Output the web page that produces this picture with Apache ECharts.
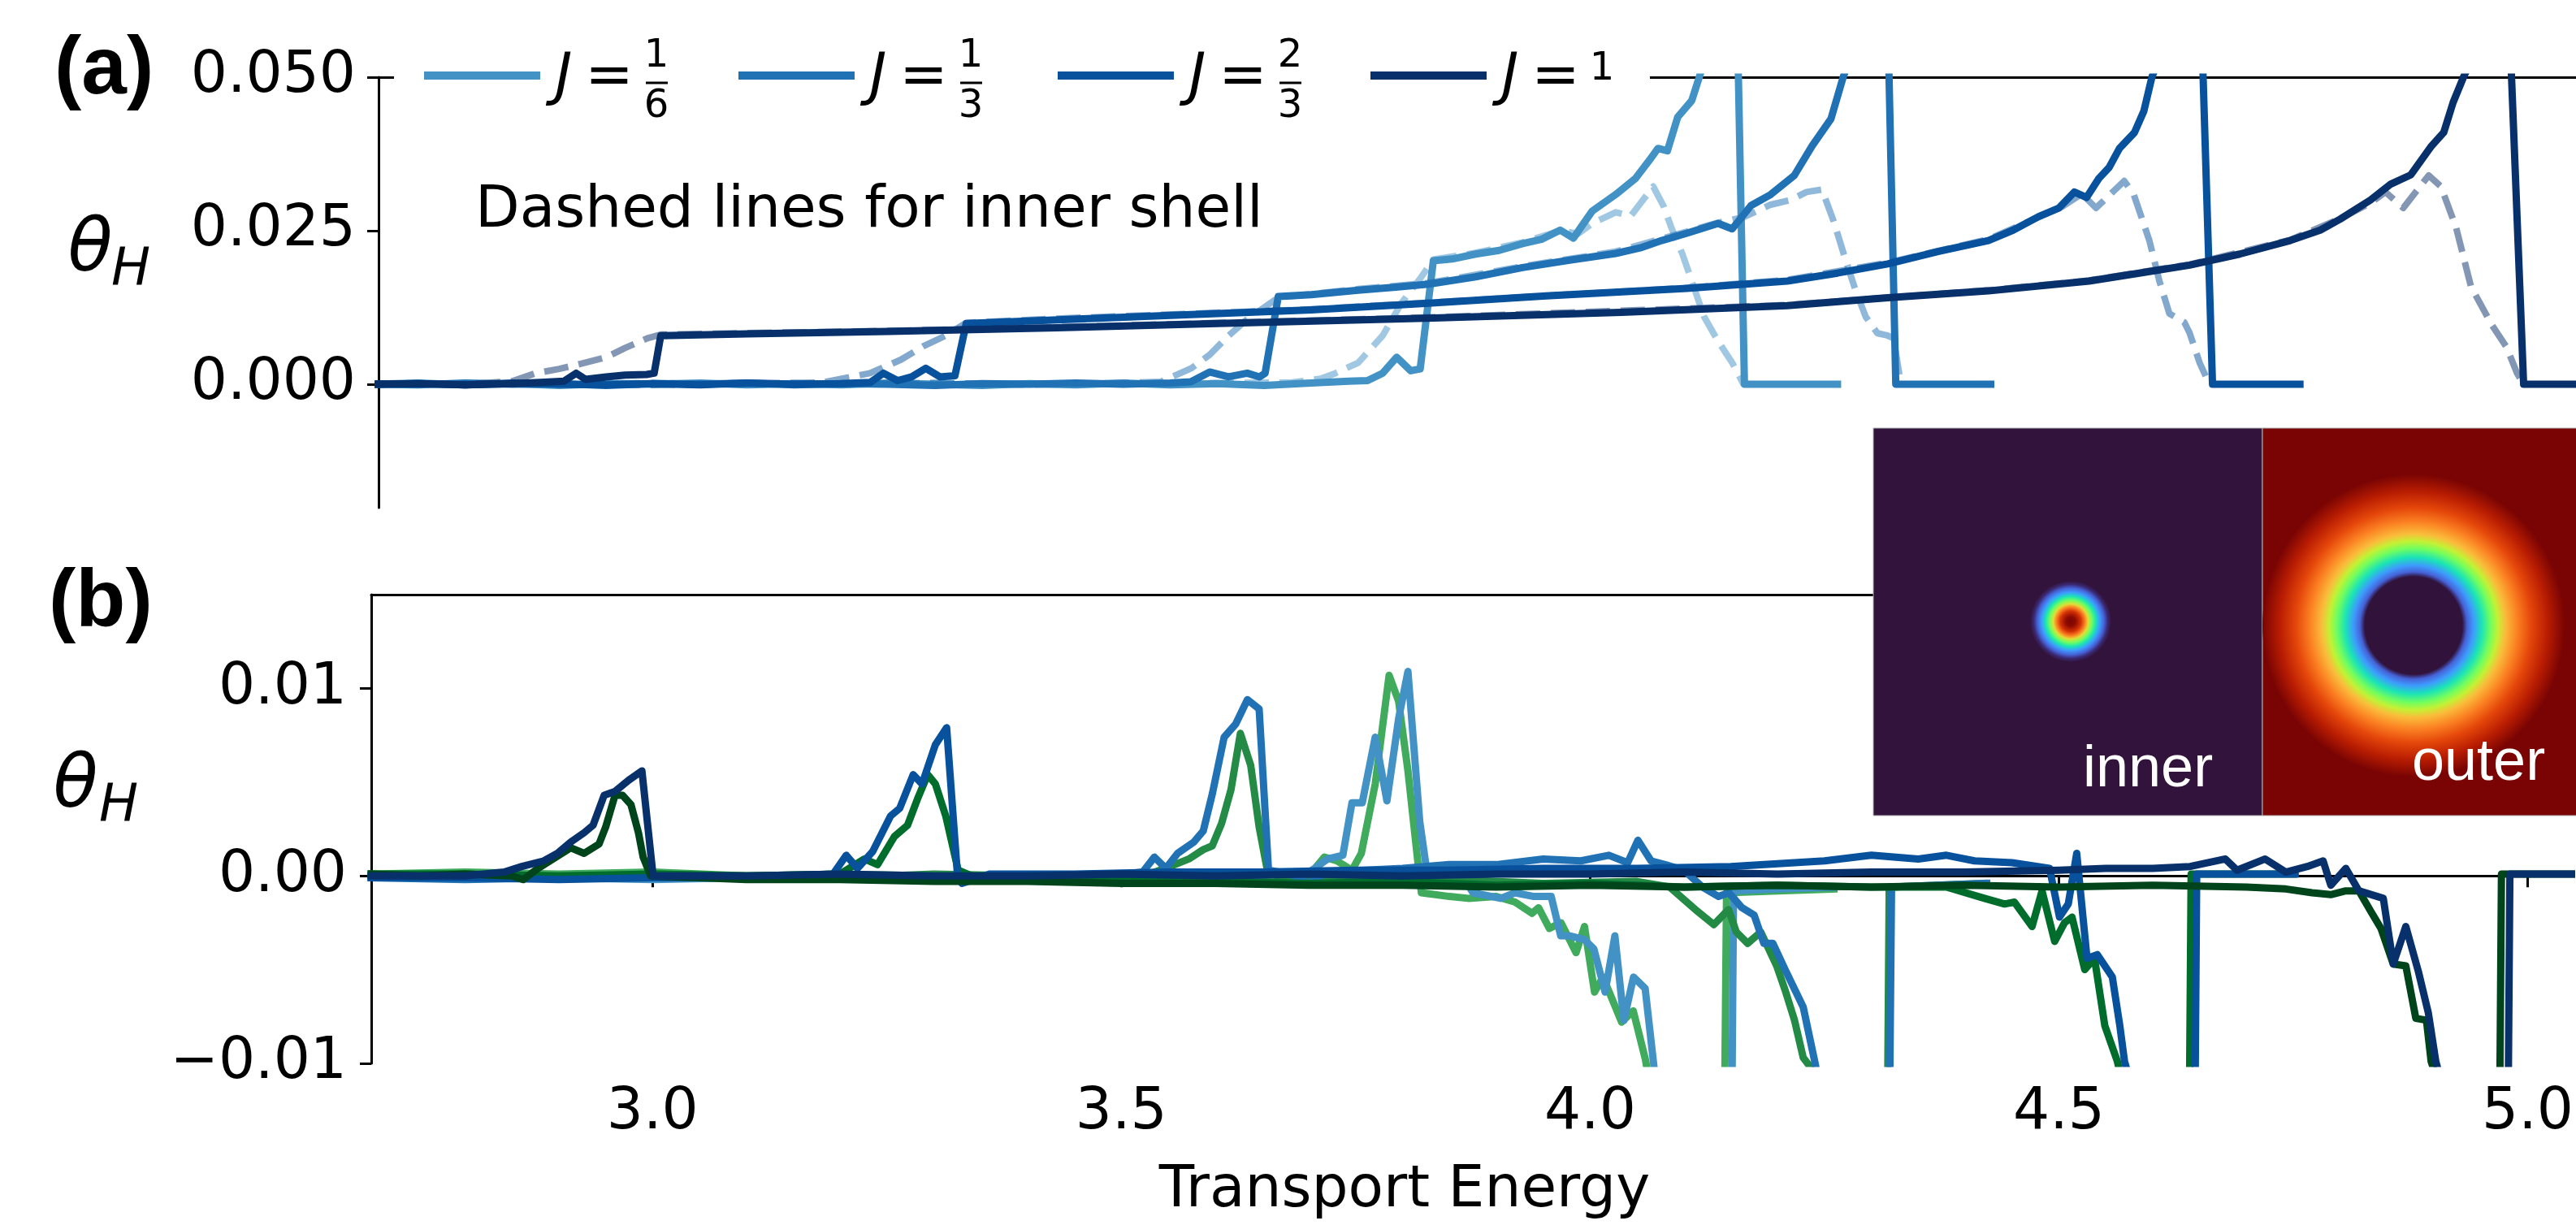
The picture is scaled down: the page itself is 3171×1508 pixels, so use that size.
<!DOCTYPE html>
<html>
<head>
<meta charset="UTF-8">
<title>theta_H vs transport energy</title>
<script src="https://cdn.jsdelivr.net/npm/echarts@6/dist/echarts.min.js"></script>
<style>
html, body { margin: 0; padding: 0; background: #fff; }
#main { width: 3171px; height: 1508px; }
</style>
</head>
<body>
<div id="main"></div>
<script type="text/javascript">
// tick values
var xTicks = [3.0, 3.5, 4.0, 4.5, 5.0];
var aTicks = [0, 0.025, 0.05];
var bTicks = [-0.01, 0, 0.01];

// legend labels J = num/den
var legendNum = ['1', '1', '2', '1'];
var legendDen = ['6', '3', '3', ''];
var blues = ['#4292c6', '#2171b5', '#08519c', '#08306b'];
var greens = ['#41ab5d', '#238b45', '#006d2c', '#00441b'];

// ---- panel (a): solid = outer shell, "in" = inner shell (dashed) ----
var a16 = [[2.70,0.0000],[2.75,0.0002],[2.80,-0.0001],[2.85,0.0001],[2.90,-0.0002],[2.95,0.0001],[3.00,0.0000],[3.05,0.0002],[3.10,-0.0001],[3.15,0.0001],[3.20,-0.0001],[3.25,0.0002],[3.30,0.0000],[3.35,-0.0002],[3.40,0.0001],[3.45,-0.0001],[3.50,0.0002],[3.55,-0.0001],[3.60,0.0001],[3.65,-0.0002],[3.70,0.0002],[3.74,0.0005],[3.76,0.0006],[3.776,0.0018],[3.791,0.0044],[3.806,0.0022],[3.816,0.0025],[3.830,0.0201],[3.850,0.0204],[3.875,0.0212],[3.900,0.0218],[3.925,0.0229],[3.945,0.0236],[3.965,0.0251],[3.979,0.0238],[3.999,0.0282],[4.024,0.0309],[4.045,0.0335],[4.060,0.0365],[4.069,0.0384],[4.079,0.0380],[4.090,0.0435],[4.105,0.0462],[4.115,0.0510],[4.135,0.0600],[4.152,0.0700],[4.161,0.0000],[4.200,0.0000],[4.260,0.0000]];
var a16in = [[2.70,0.0001],[2.80,0.0000],[2.90,0.0002],[3.00,-0.0001],[3.10,0.0001],[3.20,0.0000],[3.30,0.0002],[3.40,-0.0001],[3.50,0.0001],[3.60,0.0002],[3.68,0.0003],[3.71,0.0009],[3.726,0.0018],[3.750,0.0035],[3.776,0.0079],[3.796,0.0132],[3.816,0.0172],[3.830,0.0203],[3.875,0.0214],[3.925,0.0231],[3.965,0.0250],[3.984,0.0245],[3.999,0.0262],[4.024,0.0280],[4.040,0.0274],[4.064,0.0322],[4.075,0.0290],[4.083,0.0256],[4.095,0.0212],[4.105,0.0168],[4.118,0.0110],[4.133,0.0070],[4.148,0.0035],[4.160,0.0000],[4.260,0.0000]];
var a13 = [[2.70,0.0000],[2.75,-0.0001],[2.80,0.0002],[2.85,0.0000],[2.90,0.0001],[2.95,-0.0002],[3.00,0.0001],[3.05,0.0000],[3.10,0.0002],[3.15,-0.0001],[3.20,0.0001],[3.25,0.0000],[3.30,-0.0002],[3.35,0.0001],[3.40,0.0000],[3.45,0.0002],[3.50,0.0000],[3.55,0.0002],[3.572,0.0004],[3.592,0.0020],[3.612,0.0012],[3.632,0.0018],[3.645,0.0012],[3.651,0.0018],[3.665,0.0143],[3.700,0.0146],[3.750,0.0153],[3.790,0.0158],[3.825,0.0163],[3.875,0.0175],[3.925,0.0190],[3.975,0.0202],[4.024,0.0213],[4.050,0.0222],[4.073,0.0234],[4.100,0.0246],[4.133,0.0262],[4.148,0.0253],[4.168,0.0291],[4.188,0.0308],[4.214,0.0340],[4.233,0.0388],[4.253,0.0432],[4.266,0.0500],[4.290,0.0600],[4.312,0.0700],[4.322,0.0000],[4.380,0.0000],[4.423,0.0000]];
var a13in = [[2.70,0.0001],[2.80,-0.0001],[2.90,0.0001],[3.00,0.0002],[3.10,0.0000],[3.20,0.0001],[3.30,0.0002],[3.40,0.0000],[3.50,0.0002],[3.54,0.0004],[3.5725,0.0026],[3.592,0.0048],[3.612,0.0079],[3.632,0.0106],[3.650,0.0125],[3.665,0.0141],[3.750,0.0155],[3.825,0.0165],[3.925,0.0192],[4.024,0.0216],[4.073,0.0237],[4.133,0.0263],[4.160,0.0272],[4.188,0.0292],[4.210,0.0300],[4.227,0.0313],[4.2435,0.0317],[4.256,0.0265],[4.2667,0.0212],[4.279,0.0154],[4.290,0.0110],[4.3025,0.0083],[4.312,0.0080],[4.3197,0.0075],[4.3265,0.0009],[4.330,0.0000],[4.423,0.0000]];
var a23 = [[2.70,0.0000],[2.75,0.0001],[2.80,-0.0001],[2.85,0.0002],[2.90,0.0000],[2.95,-0.0001],[3.00,0.0001],[3.05,-0.0001],[3.10,0.0002],[3.15,0.0000],[3.20,0.0001],[3.231,0.0003],[3.245,0.0018],[3.260,0.0006],[3.275,0.0012],[3.290,0.0026],[3.305,0.0012],[3.321,0.0014],[3.333,0.0099],[3.430,0.0105],[3.550,0.0112],[3.700,0.0121],[3.825,0.0132],[3.950,0.0144],[4.100,0.0156],[4.2065,0.0168],[4.260,0.0181],[4.3135,0.0196],[4.367,0.0216],[4.4206,0.0234],[4.447,0.0251],[4.474,0.0273],[4.4955,0.0287],[4.512,0.0313],[4.525,0.0304],[4.538,0.0335],[4.549,0.0353],[4.560,0.0384],[4.576,0.0410],[4.586,0.0445],[4.5945,0.0500],[4.620,0.0600],[4.645,0.0700],[4.659,0.0000],[4.700,0.0000],[4.752,0.0000]];
var a23in = [[2.70,0.0001],[2.80,0.0000],[2.90,0.0001],[3.00,-0.0001],[3.10,0.0001],[3.18,0.0003],[3.2307,0.0018],[3.2636,0.0040],[3.2875,0.0062],[3.311,0.0079],[3.333,0.0100],[3.430,0.0107],[3.700,0.0122],[3.825,0.0133],[4.100,0.0157],[4.2065,0.0170],[4.3135,0.0198],[4.4206,0.0236],[4.474,0.0272],[4.500,0.0290],[4.520,0.0310],[4.535,0.0287],[4.565,0.0331],[4.575,0.0310],[4.5918,0.0234],[4.6025,0.0168],[4.6131,0.0115],[4.629,0.0101],[4.6345,0.0084],[4.6453,0.0035],[4.653,0.0009],[4.657,0.0000],[4.752,0.0000]];
var a1 = [[2.70,0.0000],[2.75,0.0001],[2.80,-0.0001],[2.85,0.0001],[2.88,0.0003],[2.905,0.0005],[2.918,0.0018],[2.928,0.0008],[2.950,0.0012],[2.970,0.0015],[2.993,0.0016],[3.001,0.0018],[3.008,0.0079],[3.100,0.0082],[3.250,0.0086],[3.430,0.0092],[3.600,0.0099],[3.830,0.0108],[4.030,0.0117],[4.2065,0.0128],[4.3135,0.0141],[4.4206,0.0152],[4.5276,0.0168],[4.581,0.0181],[4.6347,0.0194],[4.688,0.0212],[4.7417,0.0234],[4.7737,0.0251],[4.795,0.0269],[4.827,0.0300],[4.8487,0.0326],[4.870,0.0341],[4.892,0.0388],[4.905,0.0410],[4.915,0.0459],[4.926,0.0500],[4.950,0.0580],[4.972,0.0700],[4.990,0.0000],[5.050,0.0000]];
var a1in = [[2.70,0.0001],[2.80,0.0000],[2.85,0.0005],[2.875,0.0018],[2.900,0.0025],[2.922,0.0033],[2.950,0.0044],[2.970,0.0059],[2.994,0.0075],[3.008,0.0081],[3.250,0.0087],[3.430,0.0093],[3.830,0.0109],[4.2065,0.0129],[4.4206,0.0153],[4.5276,0.0169],[4.6347,0.0195],[4.7417,0.0235],[4.795,0.0270],[4.827,0.0295],[4.843,0.0313],[4.862,0.0287],[4.889,0.0340],[4.902,0.0322],[4.918,0.0256],[4.934,0.0159],[4.956,0.0097],[4.972,0.0060],[4.983,0.0018],[4.990,0.0000],[5.050,0.0000]];

// ---- panel (b): blue and green pairs for each J ----
var b16g = [[2.70,0.0001],[2.80,0.0002],[2.90,0.0001],[3.00,0.0002],[3.10,0.0000],[3.20,0.0001],[3.30,0.0000],[3.40,-0.0001],[3.50,0.0001],[3.55,-0.0002],[3.60,0.0000],[3.65,-0.0001],[3.70,0.0000],[3.7165,0.0010],[3.730,0.0008],[3.746,0.0003],[3.756,0.0012],[3.7708,0.0049],[3.7856,0.0107],[3.7958,0.0093],[3.8057,0.0056],[3.8157,0.0010],[3.820,-0.0009],[3.850,-0.0011],[3.870,-0.0012],[3.900,-0.0011],[3.920,-0.0014],[3.938,-0.0020],[3.945,-0.0017],[3.9565,-0.0028],[3.969,-0.0025],[3.985,-0.0041],[3.994,-0.0027],[4.0047,-0.0062],[4.0137,-0.0054],[4.0237,-0.0066],[4.0336,-0.0078],[4.046,-0.0072],[4.059,-0.0098],[4.070,-0.0130],[4.142,-0.0200],[4.1455,-0.0009],[4.200,-0.0008],[4.260,-0.0007]];
var b16b = [[2.70,-0.0001],[2.80,0.0000],[2.90,-0.0001],[3.00,-0.0002],[3.10,-0.0001],[3.20,-0.0001],[3.30,-0.0002],[3.40,-0.0001],[3.50,-0.0002],[3.60,-0.0001],[3.70,0.0002],[3.7064,0.0004],[3.720,0.0009],[3.7363,0.0011],[3.746,0.0039],[3.757,0.0039],[3.7708,0.0074],[3.7833,0.0040],[3.7958,0.0084],[3.8057,0.0109],[3.8183,0.0029],[3.8254,0.0004],[3.840,0.0002],[3.860,0.0003],[3.875,-0.0009],[3.9047,-0.0012],[3.920,-0.0009],[3.940,-0.0011],[3.9585,-0.0011],[3.9686,-0.0032],[3.9785,-0.0032],[3.994,-0.0034],[4.004,-0.0039],[4.016,-0.0062],[4.0264,-0.0032],[4.036,-0.0077],[4.0463,-0.0054],[4.0587,-0.0060],[4.0686,-0.0104],[4.090,-0.0160],[4.150,-0.0200],[4.153,-0.0008],[4.200,-0.0007],[4.260,-0.0006]];
var b13g = [[2.70,0.0000],[2.80,0.0001],[2.90,-0.0001],[3.00,0.0001],[3.10,0.0000],[3.20,-0.0001],[3.30,0.0001],[3.40,0.0000],[3.50,-0.0001],[3.53,0.0001],[3.557,0.0006],[3.572,0.0009],[3.5874,0.0014],[3.597,0.0016],[3.607,0.0028],[3.617,0.0046],[3.627,0.0076],[3.638,0.0059],[3.647,0.0026],[3.6557,0.0003],[3.670,-0.0001],[3.750,-0.0003],[3.850,-0.0002],[3.950,-0.0004],[4.050,-0.0003],[4.085,-0.0006],[4.1147,-0.0019],[4.132,-0.0026],[4.1476,-0.0018],[4.156,-0.0030],[4.168,-0.0036],[4.182,-0.0030],[4.199,-0.0048],[4.208,-0.0061],[4.218,-0.0077],[4.2273,-0.0097],[4.235,-0.0102],[4.260,-0.0160],[4.316,-0.0200],[4.319,-0.0006],[4.420,-0.0004]];
var b13b = [[2.70,-0.0001],[2.80,-0.0002],[2.90,-0.0001],[3.00,0.0000],[3.10,-0.0001],[3.20,-0.0001],[3.30,-0.0002],[3.40,-0.0001],[3.503,0.0001],[3.5228,0.0002],[3.5353,0.0010],[3.5475,0.0004],[3.560,0.0012],[3.5773,0.0018],[3.5874,0.0024],[3.5972,0.0044],[3.6097,0.0074],[3.622,0.0081],[3.6345,0.0094],[3.647,0.0089],[3.657,0.0003],[3.680,0.0001],[3.700,-0.0004],[3.720,0.0002],[3.760,0.0003],[3.800,0.0004],[3.850,0.0006],[3.900,0.0006],[3.950,0.0009],[3.990,0.0008],[4.020,0.0011],[4.040,0.0007],[4.051,0.0019],[4.065,0.0008],[4.080,0.0006],[4.100,0.0003],[4.120,-0.0006],[4.137,-0.0011],[4.148,-0.0009],[4.162,-0.0017],[4.175,-0.0021],[4.1853,-0.0036],[4.195,-0.0036],[4.208,-0.0050],[4.2273,-0.0070],[4.240,-0.0100],[4.260,-0.0150],[4.318,-0.0200],[4.3215,-0.0006],[4.423,-0.0004]];
var b23g = [[2.70,0.0001],[2.80,0.0001],[2.90,0.0000],[3.00,0.0001],[3.10,0.0000],[3.20,0.0001],[3.226,0.0009],[3.240,0.0006],[3.258,0.0021],[3.272,0.0027],[3.2826,0.0041],[3.2935,0.0054],[3.3017,0.0049],[3.3127,0.0032],[3.326,0.0003],[3.350,-0.0002],[3.400,-0.0001],[3.500,-0.0002],[3.600,-0.0003],[3.700,-0.0004],[3.800,-0.0003],[3.900,-0.0005],[4.000,-0.0004],[4.100,-0.0006],[4.200,-0.0005],[4.300,-0.0006],[4.380,-0.0006],[4.4206,-0.0012],[4.442,-0.0015],[4.4526,-0.0014],[4.4714,-0.0027],[4.482,-0.0008],[4.4955,-0.0035],[4.506,-0.0025],[4.514,-0.0022],[4.5276,-0.0050],[4.538,-0.0044],[4.549,-0.0080],[4.5624,-0.0099],[4.580,-0.0140],[4.638,-0.0200],[4.641,0.0001],[4.750,0.0001]];
var b23b = [[2.70,-0.0001],[2.80,-0.0001],[2.90,-0.0002],[3.00,-0.0001],[3.10,-0.0001],[3.1927,0.0001],[3.2066,0.0011],[3.2186,0.0004],[3.2348,0.0013],[3.254,0.0032],[3.2636,0.0036],[3.278,0.0054],[3.2875,0.0049],[3.3017,0.0070],[3.3137,0.0079],[3.3253,0.0000],[3.330,-0.0004],[3.360,0.0001],[3.450,0.0001],[3.550,0.0002],[3.650,0.0002],[3.750,0.0003],[3.850,0.0003],[3.950,0.0004],[4.050,0.0004],[4.150,0.0005],[4.250,0.0008],[4.300,0.0011],[4.350,0.0009],[4.380,0.0011],[4.410,0.0008],[4.450,0.0007],[4.490,0.0004],[4.5006,-0.0022],[4.510,-0.0015],[4.519,0.0012],[4.530,-0.0044],[4.541,-0.0042],[4.557,-0.0054],[4.565,-0.0080],[4.570,-0.0099],[4.600,-0.0150],[4.644,-0.0200],[4.647,0.0001],[4.752,0.0001]];
var b1g = [[2.70,0.0001],[2.75,0.0000],[2.80,0.0001],[2.85,0.0000],[2.862,-0.0002],[2.878,0.0004],[2.9127,0.0015],[2.927,0.0012],[2.943,0.0017],[2.950,0.0026],[2.960,0.0043],[2.968,0.0043],[2.977,0.0038],[2.985,0.0023],[2.990,0.0010],[2.998,0.0000],[3.05,-0.0001],[3.10,-0.0002],[3.20,-0.0002],[3.30,-0.0003],[3.40,-0.0003],[3.50,-0.0004],[3.60,-0.0004],[3.70,-0.0005],[3.80,-0.0005],[3.90,-0.0006],[4.00,-0.0005],[4.10,-0.0006],[4.20,-0.0005],[4.30,-0.0006],[4.40,-0.0005],[4.50,-0.0006],[4.60,-0.0005],[4.70,-0.0006],[4.742,-0.0007],[4.770,-0.0009],[4.790,-0.0010],[4.806,-0.0008],[4.820,-0.0008],[4.8327,-0.0019],[4.8435,-0.0028],[4.8566,-0.0047],[4.870,-0.0048],[4.8807,-0.0076],[4.892,-0.0077],[4.897,-0.0099],[4.930,-0.0150],[4.969,-0.0200],[4.972,0.0001],[5.050,0.0001]];
var b1b = [[2.70,0.0000],[2.75,0.0000],[2.80,0.0000],[2.8417,0.0002],[2.8607,0.0005],[2.884,0.0008],[2.8986,0.0012],[2.9127,0.0018],[2.927,0.0023],[2.9366,0.0027],[2.9484,0.0043],[2.960,0.0045],[2.9745,0.0051],[2.9887,0.0056],[3.0006,0.0000],[3.10,0.0000],[3.20,0.0001],[3.30,0.0000],[3.40,0.0000],[3.50,0.0001],[3.60,0.0000],[3.70,0.0001],[3.80,0.0000],[3.90,0.0001],[4.00,0.0001],[4.10,0.0002],[4.20,0.0001],[4.30,0.0002],[4.40,0.0002],[4.50,0.0003],[4.55,0.0004],[4.60,0.0004],[4.64,0.0005],[4.6775,0.0009],[4.690,0.0003],[4.720,0.0009],[4.742,0.0002],[4.765,0.0005],[4.7818,0.0008],[4.790,-0.0005],[4.806,0.0004],[4.820,-0.0008],[4.846,-0.0012],[4.8566,-0.0047],[4.870,-0.0027],[4.8834,-0.0051],[4.894,-0.0073],[4.902,-0.0099],[4.930,-0.0150],[4.978,-0.0200],[4.981,0.0001],[5.050,0.0001]];

var chart = echarts.init(document.getElementById('main'));

var tickFont = { fontSize: 71, fontFamily: 'DejaVu Sans', color: '#000' };
var spine = { show: true, lineStyle: { color: '#000', width: 3 } };

function lineSeries(data, color, xi, yi, dashed) {
    return {
        type: 'line', data: data, xAxisIndex: xi, yAxisIndex: yi,
        symbol: 'none', showSymbol: false, clip: true, silent: true,
        lineStyle: {
            color: color, width: dashed ? 8 : 9,
            type: dashed ? [30, 13] : 'solid',
            opacity: dashed ? 0.5 : 1,
            cap: dashed ? 'butt' : 'square', join: 'round'
        }
    };
}

var series = [];
var aSolid = [a16, a13, a23, a1];
var aInner = [a16in, a13in, a23in, a1in];
for (var i = 0; i < 4; i++) {
    series.push(lineSeries(aSolid[i], blues[i], 0, 0, false));
    series.push(lineSeries(aInner[i], blues[i], 0, 0, true));
}
var bGreen = [b16g, b13g, b23g, b1g];
var bBlue = [b16b, b13b, b23b, b1b];
for (var i = 0; i < 4; i++) {
    series.push(lineSeries(bGreen[i], greens[i], 2, 1, false));
    series.push(lineSeries(bBlue[i], blues[i], 2, 1, false));
}

// mapping: 2.70 at x=457, 1157 px per unit
var xmin = 2.70, xmax = 2.70 + (3171 - 457) / 1157;
var xminA = 2.70 + (466 - 457) / 1157;

var noTick = { show: false };
var option = {
    animation: false,
    backgroundColor: '#fff',
    grid: [
        { left: 466, right: 0, top: 95, height: 530 },
        { left: 457, right: 0, top: 732, height: 577 }
    ],
    xAxis: [
        { type: 'value', gridIndex: 0, min: xminA, max: xmax, position: 'bottom',
          axisLine: { show: false }, axisTick: noTick, axisLabel: noTick, splitLine: noTick },
        { type: 'value', gridIndex: 0, min: xminA, max: xmax, position: 'top',
          axisLine: spine, axisTick: noTick, axisLabel: noTick, splitLine: noTick },
        { type: 'value', gridIndex: 1, min: xmin, max: xmax, position: 'bottom',
          axisLine: spine,
          axisTick: { show: true, length: 14, lineStyle: { width: 3, color: '#000' }, customValues: xTicks },
          axisLabel: Object.assign({ show: true, margin: 26, customValues: xTicks,
              formatter: function (v) { return v.toFixed(1); } }, tickFont),
          splitLine: noTick },
        { type: 'value', gridIndex: 1, min: xmin, max: xmax, position: 'top',
          axisLine: spine, axisTick: noTick, axisLabel: noTick, splitLine: noTick }
    ],
    yAxis: [
        { type: 'value', gridIndex: 0, min: -0.0201, max: 0.05,
          axisLine: spine,
          axisTick: { show: true, length: 14, lineStyle: { width: 3, color: '#000' }, customValues: aTicks },
          axisLabel: Object.assign({ show: true, margin: 28, customValues: aTicks,
              formatter: function (v) { return v.toFixed(3); } }, tickFont),
          splitLine: noTick },
        { type: 'value', gridIndex: 1, min: -0.01, max: 0.015,
          axisLine: spine,
          axisTick: { show: true, length: 14, lineStyle: { width: 3, color: '#000' }, customValues: bTicks },
          axisLabel: Object.assign({ show: true, margin: 30, customValues: bTicks,
              formatter: function (v) {
                  if (Math.abs(v) < 1e-9) return '0.00';
                  return v < 0 ? '\u2212' + Math.abs(v).toFixed(2) : v.toFixed(2);
              } }, tickFont),
          splitLine: noTick }
    ],
    series: series
};

// ---- text, legend and inset ----
var g = [];
function txt(s, x, y, font, align, color) {
    g.push({ type: 'text', z: 120, silent: true,
        style: { text: s, x: x, y: y, font: font, fill: color || '#000',
                 align: align || 'left', verticalAlign: 'middle' } });
}

// legend box hides the top spine behind it
g.push({ type: 'rect', z: 110, silent: true,
    shape: { x: 485, y: 40, width: 1546, height: 125 }, style: { fill: '#fff' } });

var legendX = [522, 909, 1302, 1687];
for (var i = 0; i < 4; i++) {
    var x0 = legendX[i];
    g.push({ type: 'line', z: 120, silent: true,
        shape: { x1: x0, y1: 93, x2: x0 + 143, y2: 93 },
        style: { stroke: blues[i], lineWidth: 10 } });
    txt('J', x0 + 172, 97, 'italic 71px "DejaVu Sans"', 'center');
    txt('=', x0 + 228, 97, '71px "DejaVu Sans"', 'center');
    if (legendDen[i]) {
        txt(legendNum[i], x0 + 286, 70, '48px "DejaVu Sans"', 'center');
        g.push({ type: 'line', z: 120, silent: true,
            shape: { x1: x0 + 273, y1: 102, x2: x0 + 300, y2: 102 },
            style: { stroke: '#000', lineWidth: 3 } });
        txt(legendDen[i], x0 + 286, 132, '48px "DejaVu Sans"', 'center');
    } else {
        txt(legendNum[i], x0 + 285, 86, '48px "DejaVu Sans"', 'center');
    }
}

txt('Dashed lines for inner shell', 585, 261, '71px "DejaVu Sans"', 'left');
txt('(a)', 67, 87, 'bold 100px "Liberation Sans"', 'left');
txt('(b)', 60, 743, 'bold 100px "Liberation Sans"', 'left');
txt('\u03b8', 111, 310, 'italic 90px "DejaVu Sans"', 'center');
txt('H', 161, 333, 'italic 64px "DejaVu Sans"', 'center');
txt('\u03b8', 93, 970, 'italic 90px "DejaVu Sans"', 'center');
txt('H', 146, 993, 'italic 64px "DejaVu Sans"', 'center');
txt('Transport Energy', 1729, 1467, '71px "DejaVu Sans"', 'center');

// inset: inner / outer shell density images
g.push({ type: 'rect', z: 130, silent: true,
    shape: { x: 2306, y: 527, width: 479, height: 477 },
    style: { fill: '#32133c', stroke: '#b0b0b0', lineWidth: 1 } });
g.push({ type: 'rect', z: 130, silent: true,
    shape: { x: 2785, y: 527, width: 400, height: 477 },
    style: { fill: '#7a0403', stroke: '#b0b0b0', lineWidth: 1 } });
g.push({ type: 'circle', z: 131, silent: true,
    shape: { cx: 2549, cy: 765, r: 50 },
    style: { fill: { type: 'radial', x: 0.5, y: 0.5, r: 0.5, colorStops: [
        { offset: 0, color: '#7a0403' }, { offset: 0.12, color: '#8f0b01' },
        { offset: 0.25, color: '#d23105' }, { offset: 0.35, color: '#fb8022' },
        { offset: 0.43, color: '#e1dd37' }, { offset: 0.52, color: '#72fe5e' },
        { offset: 0.62, color: '#1ae4b6' }, { offset: 0.72, color: '#3e9bfe' },
        { offset: 0.82, color: '#4662d7' }, { offset: 0.91, color: '#3a2a75' },
        { offset: 1, color: '#32133c' } ] } } });
g.push({ type: 'circle', z: 131, silent: true,
    shape: { cx: 2971, cy: 770, r: 186 },
    style: { fill: { type: 'radial', x: 0.5, y: 0.5, r: 0.5, colorStops: [
        { offset: 0, color: '#30123b' }, { offset: 0.323, color: '#30123b' },
        { offset: 0.355, color: '#4662d7' }, { offset: 0.398, color: '#3e9bfe' },
        { offset: 0.452, color: '#1ae4b6' }, { offset: 0.511, color: '#72fe5e' },
        { offset: 0.559, color: '#c4f134' }, { offset: 0.608, color: '#fabc3b' },
        { offset: 0.688, color: '#fb8022' }, { offset: 0.780, color: '#e4460a' },
        { offset: 0.887, color: '#b91d02' }, { offset: 1, color: '#7a0403' } ] } } });
g.push({ type: 'text', z: 132, silent: true,
    style: { text: 'inner', x: 2564, y: 948, font: '72px "Liberation Sans"', fill: '#fff', verticalAlign: 'middle' } });
g.push({ type: 'text', z: 132, silent: true,
    style: { text: 'outer', x: 2969, y: 940, font: '72px "Liberation Sans"', fill: '#fff', verticalAlign: 'middle' } });

option.graphic = { elements: g };
chart.setOption(option);
</script>
</body>
</html>
